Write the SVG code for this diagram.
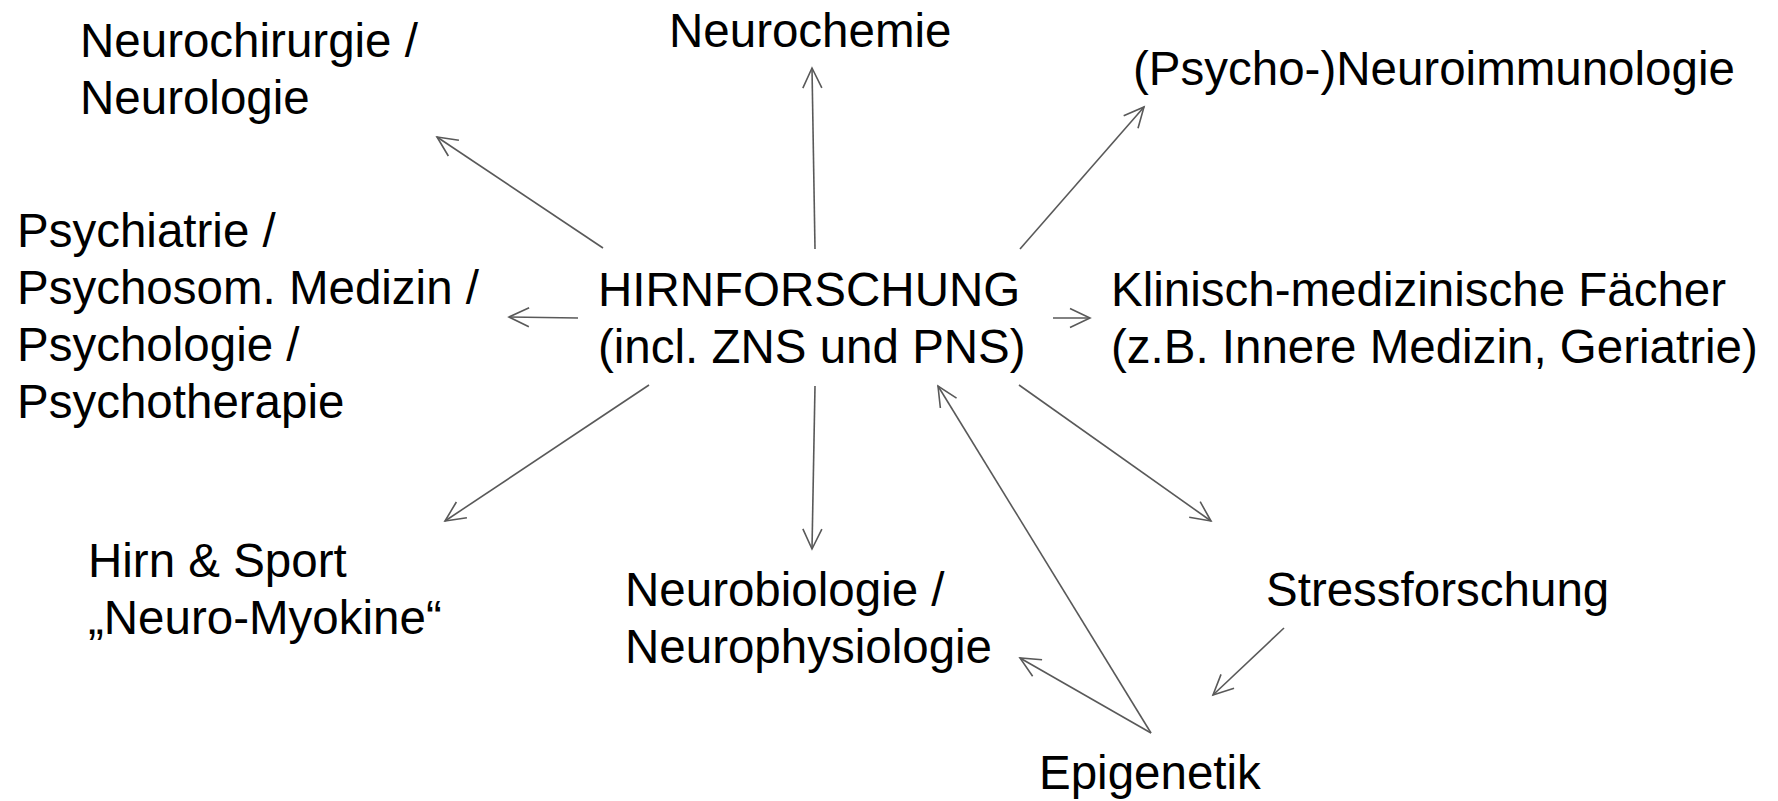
<svg xmlns="http://www.w3.org/2000/svg" width="1778" height="801" viewBox="0 0 1778 801">
<style>
text{font-family:"Liberation Sans",Arial,sans-serif;font-size:47.5px;fill:#000}
.c{stroke:#595959;stroke-width:1.6;fill:none}
</style>
<defs>
<marker id="ah" markerUnits="userSpaceOnUse" markerWidth="26" markerHeight="26" viewBox="-23 -13 26 26" refX="0" refY="0" orient="auto">
<path d="M-20,-9.5 L0,0 L-20,9.5" fill="none" stroke="#595959" stroke-width="1.6"/>
</marker>
</defs>
<rect width="1778" height="801" fill="#fff"/>
<g id="connectors">
<line class="c" x1="603" y1="248" x2="437" y2="137" marker-end="url(#ah)"/>
<line class="c" x1="815" y1="249" x2="812" y2="68" marker-end="url(#ah)"/>
<line class="c" x1="1020" y1="249" x2="1144" y2="107" marker-end="url(#ah)"/>
<line class="c" x1="578" y1="318" x2="509" y2="317" marker-end="url(#ah)"/>
<line class="c" x1="1053" y1="318" x2="1090" y2="318" marker-end="url(#ah)"/>
<line class="c" x1="649" y1="385" x2="445" y2="521" marker-end="url(#ah)"/>
<line class="c" x1="815" y1="386" x2="812" y2="549" marker-end="url(#ah)"/>
<line class="c" x1="1019" y1="385" x2="1211" y2="521" marker-end="url(#ah)"/>
<line class="c" x1="1284" y1="628" x2="1213" y2="695" marker-end="url(#ah)"/>
<line class="c" x1="1151" y1="733" x2="938" y2="386" marker-end="url(#ah)"/>
<line class="c" x1="1151" y1="733" x2="1020" y2="658" marker-end="url(#ah)"/>
</g>
<g id="center"><text x="598" y="306">HIRNFORSCHUNG</text><text x="598" y="363">(incl. ZNS und PNS)</text></g>
<g id="neurochirurgie"><text x="80" y="57">Neurochirurgie /</text><text x="80" y="114">Neurologie</text></g>
<g id="neurochemie"><text x="669" y="47">Neurochemie</text></g>
<g id="neuroimmunologie"><text x="1133" y="85">(Psycho-)Neuroimmunologie</text></g>
<g id="psychiatrie"><text x="17" y="247">Psychiatrie /</text><text x="17" y="304">Psychosom. Medizin /</text><text x="17" y="361">Psychologie /</text><text x="17" y="418">Psychotherapie</text></g>
<g id="klinisch"><text x="1111" y="306">Klinisch-medizinische Fächer</text><text x="1111" y="363">(z.B. Innere Medizin, Geriatrie)</text></g>
<g id="sport"><text x="88" y="577">Hirn &amp; Sport</text><text x="88" y="634">„Neuro-Myokine“</text></g>
<g id="neurobiologie"><text x="625" y="606">Neurobiologie /</text><text x="625" y="663">Neurophysiologie</text></g>
<g id="stress"><text x="1266" y="606">Stressforschung</text></g>
<g id="epigenetik"><text x="1039" y="789">Epigenetik</text></g>
</svg>
